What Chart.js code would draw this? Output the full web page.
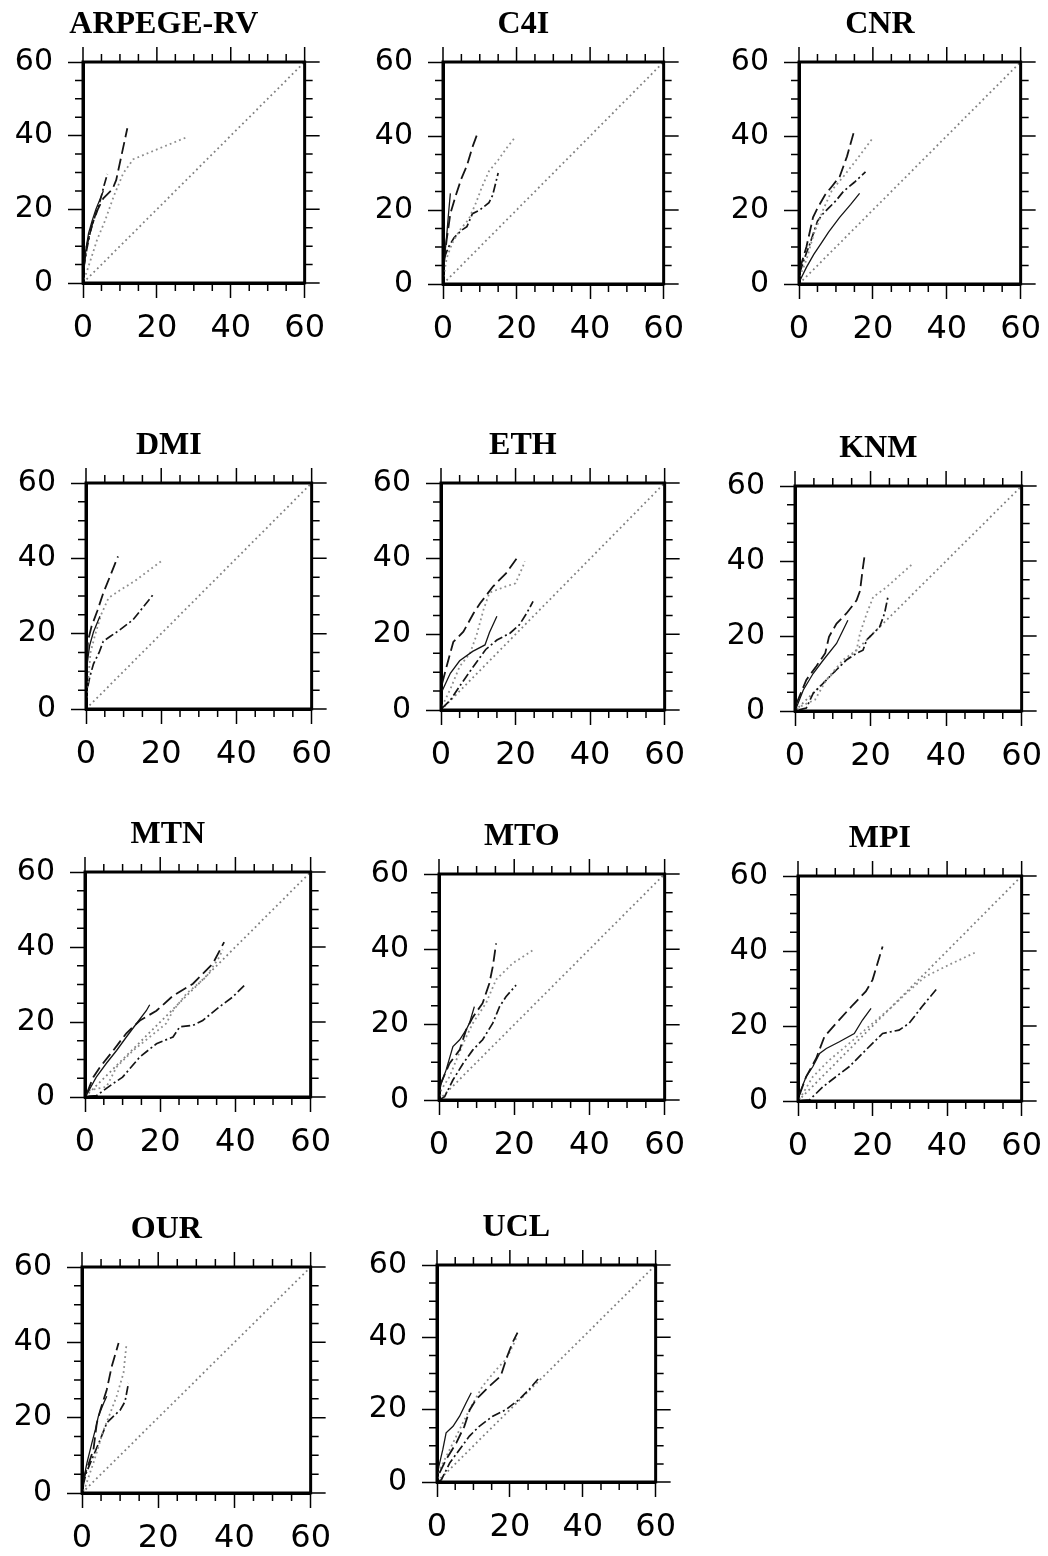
<!DOCTYPE html>
<html>
<head>
<meta charset="utf-8">
<script src="https://cdn.jsdelivr.net/npm/chart.js@4.4.1/dist/chart.umd.min.js"></script>
<style>
  html, body { margin: 0; padding: 0; background: #fff; }
  #page { position: relative; width: 1048px; height: 1556px; background: #fff; }
  #page canvas { position: absolute; }
</style>
</head>
<body>
<div id="page"></div>
<script>
"use strict";

// ---- data ----
const titles = ['ARPEGE-RV', 'C4I', 'CNR', 'DMI', 'ETH', 'KNM', 'MTN', 'MTO', 'MPI', 'OUR', 'UCL'];
const axisTicks = [0, 20, 40, 60];
const minorTicks = [5, 10, 15, 25, 30, 35, 45, 50, 55];
const diagonal = [[0, 0], [60, 60]];

const arpegeSolid = [[0.2, 4], [0.6, 8], [1.5, 13.5], [2.5, 17], [3.5, 20], [4.5, 22.5], [5.5, 25]];
const arpegeDashed = [[0.3, 5], [1, 10], [2.5, 16], [4, 20], [5.5, 23], [6.5, 24], [8, 25.5], [9, 28], [10.5, 35], [12, 42]];
const arpegeDotted = [[0.2, 1], [0.9, 2.7], [2.3, 7], [3.8, 11.7], [6, 17], [8.3, 23.5], [10.9, 29.8], [13.6, 33.6], [20.8, 36.6], [28.4, 39.7]];
const arpegeDashDot = [[0.2, 4], [1, 9], [2, 14], [3.5, 19], [4.7, 22.5], [5.7, 26.5], [6.6, 29.6]];

const c4iSolid = [[0.2, 4], [0.5, 8], [1, 13], [1.5, 19], [2, 24.5]];
const c4iDashed = [[0.3, 6], [1, 12], [2, 19], [3.5, 24], [5, 28.5], [6.5, 32], [8, 37], [9.3, 40.5]];
const c4iDotted = [[0.2, 2], [1, 7], [2.5, 11], [4.5, 14.5], [7, 17.5], [9, 22], [10.5, 26], [12.5, 30.5], [15, 33.5], [17.5, 37], [19.5, 39.5]];
const c4iDashDot = [[0.3, 7], [1.5, 10], [3, 12.5], [5, 14.5], [6.5, 15.5], [8, 19], [10, 20], [12.5, 22], [13.5, 24], [15, 30]];

const cnrSolid = [[0.3, 1], [2, 4.5], [4, 8], [6, 11], [8, 14], [11, 18], [14, 21.5], [16.4, 24.5]];
const cnrDashed = [[0.2, 4], [2, 10], [3.8, 18], [5, 20.5], [7, 24], [9, 26.5], [11, 29], [13, 34.5], [15, 41.6]];
const cnrDotted = [[0.2, 2], [2, 6.5], [4, 13.5], [6.5, 20], [9, 25.5], [12, 29], [15.5, 33.5], [20, 39.5]];
const cnrDashDot = [[0.2, 3], [1.5, 7], [3, 11], [5, 17], [6.5, 19], [8, 20.5], [10, 22.5], [12, 25], [15, 27.5], [18, 30.3]];

const dmiSolid = [[0.1, 6], [0.3, 12], [1, 17], [2, 20.5], [3.7, 24.6]];
const dmiDashed = [[0.2, 10], [0.5, 18], [1.5, 22], [3, 26], [4.6, 30.8], [6.5, 35.5], [8.5, 40.5]];
const dmiDotted = [[0.2, 3], [0.6, 8], [1.2, 15], [2.5, 20], [4, 25], [6, 29.5], [9, 31.5], [13, 34], [17, 37], [20.5, 39.6]];
const dmiDashDot = [[0.5, 6], [1, 8.5], [2, 12], [3.5, 15], [4.6, 18], [6.5, 19.3], [9, 21], [12.5, 23.7], [15, 26.8], [17.8, 30.3]];

const ethSolid = [[0.3, 5], [2.5, 9.7], [5, 13], [8.5, 15.5], [11.8, 17.2], [13, 20.5], [15, 24.8]];
const ethDashed = [[0.3, 7], [1.5, 11.5], [3.3, 18], [6, 20.7], [8.7, 25.5], [10.5, 28.2], [14, 32.7], [17.5, 36.2], [21, 41]];
const ethDotted = [[0.3, 1], [2.5, 5.5], [5, 11.5], [7.8, 15], [9.6, 20], [11.4, 26.5], [13, 31], [17.5, 32.7], [20, 33.5], [22, 38], [22.5, 39.3]];
const ethDashDot = [[0.3, 0.5], [2.5, 2.6], [5.5, 7], [8.7, 11.5], [12, 16], [15, 18.5], [18.5, 20.3], [21, 22.5], [23, 25.6], [24.7, 28.7]];

const knmSolid = [[0.4, 1], [2.2, 5.6], [4.8, 10], [7.5, 13.6], [11, 18], [14, 24.2]];
const knmDashed = [[0.4, 2], [3, 8.3], [5.7, 12], [8, 15.4], [9, 19.8], [11, 23.3], [13.6, 26], [16.3, 29.5], [17.2, 32], [18, 38.4], [18.5, 42]];
const knmDotted = [[0.5, 0.5], [2, 1.5], [5.3, 3], [8.3, 8.3], [12.7, 13.6], [16.3, 16.2], [17.2, 20.7], [19, 26], [20.7, 30.4], [24.2, 33], [31.2, 39.3]];
const knmDashDot = [[1, 0.3], [3, 0.8], [4.8, 4.7], [6.6, 6.5], [10, 10], [13.6, 13.6], [16.3, 15.4], [18, 16.2], [19, 19], [22.4, 22.4], [23.7, 26], [24.6, 30.4]];

const mtnSolid = [[0.3, 0.4], [3, 5.3], [5.7, 9], [8.4, 12.4], [11, 16], [13.7, 19.6], [16.3, 23], [17.2, 24.6]];
const mtnDashed = [[0.5, 1], [2.2, 5.3], [4, 8], [7.5, 12.4], [11, 17], [14.6, 20.4], [19, 23], [23.4, 27], [28.7, 30.2], [34, 35.6], [37, 41.3]];
const mtnDotted = [[0.3, 0.5], [1.3, 1.8], [5.7, 2.7], [8.4, 8], [12.8, 12.4], [17.2, 16], [21.6, 19.6], [23.4, 23], [27, 27.6], [32.2, 32], [35.7, 37.3], [36.6, 39.3]];
const mtnDashDot = [[1, 0.2], [3.1, 0.4], [7.5, 3.6], [10, 5.3], [14.6, 10.7], [19, 14.2], [23.4, 16], [25.2, 18.7], [28.7, 19.1], [31.3, 20.4], [35.7, 24], [39.3, 26.7], [42.8, 30.2]];

const mtoSolid = [[0.3, 3], [0.6, 4.4], [1.9, 8], [3.7, 14.2], [5.5, 16], [7.2, 18.6], [8.1, 20.4], [9.4, 24.8]];
const mtoDashed = [[0.3, 4], [2.8, 9.7], [5.5, 13.3], [7.2, 18.6], [9, 22], [11.6, 25.7], [13.4, 31], [14.3, 35.4], [15.2, 41.6]];
const mtoDotted = [[0.3, 1], [0.6, 2.7], [2.8, 6.2], [6.4, 15], [9, 20.4], [12.5, 25.7], [15.2, 32], [19.6, 36.3], [25, 39.8]];
const mtoDashDot = [[0.5, 0.3], [1.5, 0.9], [3.7, 5.3], [6.4, 9.7], [9, 13.3], [11.6, 16], [14.3, 20.4], [16.1, 24.8], [17.8, 27.4], [20.5, 30.5]];

const mpiSolid = [[0.4, 2], [2.2, 6.5], [4, 9.2], [5.8, 12.7], [7.6, 14], [11.1, 15.8], [15.1, 18], [17.3, 21.6], [19.6, 24.7]];
const mpiDashed = [[0.4, 1.6], [2.2, 6.5], [4.9, 11.4], [7.1, 17.2], [10.2, 20.7], [14.7, 25.6], [18.2, 29.2], [20, 32.3], [22.7, 41.2]];
const mpiDotted = [[0.3, 0.5], [1.3, 2], [4, 6.5], [8.4, 10.9], [13.8, 15.4], [20, 20.7], [25.3, 25.2], [29, 28.7], [34.2, 33.2], [41.3, 36.7], [48, 39.8]];
const mpiDashDot = [[1, 0.1], [3.1, 0.3], [6.7, 3.8], [10.2, 6.5], [13.8, 9.2], [18.2, 13.6], [22.7, 18], [27.1, 18.9], [29.8, 20.7], [33.3, 25.2], [37.3, 30]];

const ourSolid = [[0.4, 3.5], [1.3, 8], [2.6, 13.3], [3.5, 16.8], [4.3, 20.4], [5.7, 23.9], [6.5, 25.7]];
const ourDashed = [[0.3, 3], [0.9, 5.3], [3, 11.5], [3.9, 18.6], [4.8, 22], [6.5, 27.4], [7.8, 33.6], [9.6, 39.8]];
const ourDotted = [[0.3, 0.5], [0.9, 1.8], [3, 8], [5.7, 16.8], [7.4, 21.2], [9.1, 25.7], [10.9, 31.9], [11.7, 39.8]];
const ourDashDot = [[0.3, 2], [1, 5], [2.2, 8], [4.8, 14.2], [6.5, 18.6], [8.3, 20.4], [10, 22], [11.3, 24.3], [12.2, 29.2]];

const uclSolid = [[0.3, 3.4], [1.6, 9], [2.5, 13.6], [4.4, 15.4], [6.2, 18.2], [8, 21.9], [9.4, 24.7]];
const uclDashed = [[0.7, 2.5], [2.5, 6.2], [5.3, 10.8], [7.5, 15.4], [9, 20], [10.7, 22.8], [14.4, 26.5], [17.5, 29.3], [19, 34], [20.7, 38.5], [22.1, 41.3]];
const uclDotted = [[0.3, 1], [0.7, 3.4], [3.5, 9], [6.2, 14.5], [8.9, 20], [12.5, 26.5], [16.2, 31], [19, 34], [21.2, 38.5], [22, 40.5]];
const uclDashDot = [[0.5, 0.3], [1.2, 0.6], [3.5, 5.3], [6.2, 9], [8.9, 12.7], [11.6, 15.4], [15.3, 18.2], [18.9, 20], [22.5, 22.8], [25.3, 25.6], [28, 28.8]];

// series per panel, same order as titles: solid, dashed, dotted, dash-dot
const panelSeries = [
    [arpegeSolid, arpegeDashed, arpegeDotted, arpegeDashDot],
    [c4iSolid, c4iDashed, c4iDotted, c4iDashDot],
    [cnrSolid, cnrDashed, cnrDotted, cnrDashDot],
    [dmiSolid, dmiDashed, dmiDotted, dmiDashDot],
    [ethSolid, ethDashed, ethDotted, ethDashDot],
    [knmSolid, knmDashed, knmDotted, knmDashDot],
    [mtnSolid, mtnDashed, mtnDotted, mtnDashDot],
    [mtoSolid, mtoDashed, mtoDotted, mtoDashDot],
    [mpiSolid, mpiDashed, mpiDotted, mpiDashDot],
    [ourSolid, ourDashed, ourDotted, ourDashDot],
    [uclSolid, uclDashed, uclDotted, uclDashDot]
];

// ---- layout: plot box of each panel (left, top, width, height) ----
const plotBoxes = [
    [83, 62, 223, 221], [443, 62, 222, 222], [799, 62, 223, 222],
    [86, 483, 227, 226], [441, 483, 225, 227], [795, 486, 228, 225],
    [85, 872, 227, 225], [439, 874, 227, 226], [798, 876, 225, 225],
    [82, 1267, 230, 226], [437, 1265, 220, 217]
];

const AXIS_W = 85;   // room for y labels
const AXIS_H = 64;   // room for x labels
const TOP_PAD = 60;  // room for title + top ticks
const RIGHT_PAD = 30;

const lineStyles = [
    { borderColor: '#151515', borderWidth: 1.3, borderDash: [] },
    { borderColor: '#151515', borderWidth: 1.8, borderDash: [12, 5] },
    { borderColor: '#8e8e8e', borderWidth: 1.8, borderDash: [1.8, 3.2] },
    { borderColor: '#151515', borderWidth: 1.7, borderDash: [9, 3, 2, 3] }
];
const diagonalStyle = { borderColor: '#808080', borderWidth: 1.8, borderDash: [1.8, 3.2] };

const toPoints = arr => arr.map(p => ({ x: p[0], y: p[1] }));

// frame, top/right major ticks, minor ticks on all sides, panel title
const frameAndTicks = {
    id: 'frameAndTicks',
    afterDraw(chart, args, opts) {
        const { ctx, chartArea: a } = chart;
        const xs = chart.scales.x, ys = chart.scales.y;
        ctx.save();
        ctx.strokeStyle = '#000';
        ctx.lineWidth = 1.5;
        ctx.beginPath();
        axisTicks.forEach(v => {
            const px = xs.getPixelForValue(v), py = ys.getPixelForValue(v);
            ctx.moveTo(px, a.top); ctx.lineTo(px, a.top - 15);
            ctx.moveTo(a.right, py); ctx.lineTo(a.right + 15, py);
        });
        minorTicks.forEach(v => {
            const px = xs.getPixelForValue(v), py = ys.getPixelForValue(v);
            ctx.moveTo(px, a.top); ctx.lineTo(px, a.top - 8);
            ctx.moveTo(px, a.bottom); ctx.lineTo(px, a.bottom + 8);
            ctx.moveTo(a.left, py); ctx.lineTo(a.left - 8, py);
            ctx.moveTo(a.right, py); ctx.lineTo(a.right + 8, py);
        });
        ctx.stroke();
        ctx.lineWidth = 3;
        ctx.strokeRect(a.left, a.top, a.right - a.left, a.bottom - a.top);

        ctx.fillStyle = '#000';
        ctx.font = 'bold 32px "Liberation Serif", "Times New Roman", serif';
        ctx.textAlign = 'center';
        ctx.textBaseline = 'middle';
        ctx.fillText(opts.text, (a.left + a.right) / 2 - 30, a.top - 37);
        ctx.restore();
    }
};

const page = document.getElementById('page');

titles.forEach((title, i) => {
    const [left, top, w, h] = plotBoxes[i];
    const canvas = document.createElement('canvas');
    const cw = AXIS_W + w + RIGHT_PAD, ch = TOP_PAD + h + AXIS_H;
    canvas.width = cw;
    canvas.height = ch;
    canvas.style.left = (left - AXIS_W) + 'px';
    canvas.style.top = (top - TOP_PAD) + 'px';
    canvas.style.width = cw + 'px';
    canvas.style.height = ch + 'px';
    page.appendChild(canvas);

    const datasets = panelSeries[i].map((series, k) => Object.assign({
        data: toPoints(series),
        showLine: true,
        pointRadius: 0,
        fill: false,
        tension: 0
    }, lineStyles[k]));
    datasets.push(Object.assign({
        data: toPoints(diagonal),
        showLine: true,
        pointRadius: 0,
        fill: false
    }, diagonalStyle));

    const axis = (fitSize, font, pad) => ({
        min: 0,
        max: 60,
        afterBuildTicks: s => { s.ticks = axisTicks.map(v => ({ value: v })); },
        afterFit: fitSize,
        ticks: {
            color: '#000',
            padding: pad,
            maxRotation: 0,
            font: font
        },
        grid: {
            drawOnChartArea: false,
            drawTicks: true,
            tickLength: 15,
            tickWidth: 1.5,
            tickColor: '#000'
        },
        border: { display: true, color: '#000', width: 3 }
    });

    new Chart(canvas, {
        type: 'scatter',
        data: { datasets: datasets },
        options: {
            responsive: false,
            animation: false,
            events: [],
            layout: { padding: { top: TOP_PAD, right: RIGHT_PAD, left: 0, bottom: 0 } },
            plugins: {
                legend: { display: false },
                tooltip: { enabled: false },
                frameAndTicks: { text: title }
            },
            scales: {
                x: axis(s => { s.height = AXIS_H; },
                    { family: '"DejaVu Sans", Verdana, sans-serif', size: 32 }, 11),
                y: axis(s => { s.width = AXIS_W; },
                    { family: '"DejaVu Sans", Verdana, sans-serif', size: 30 }, 15)
            }
        },
        plugins: [frameAndTicks]
    });
});
</script>
</body>
</html>
